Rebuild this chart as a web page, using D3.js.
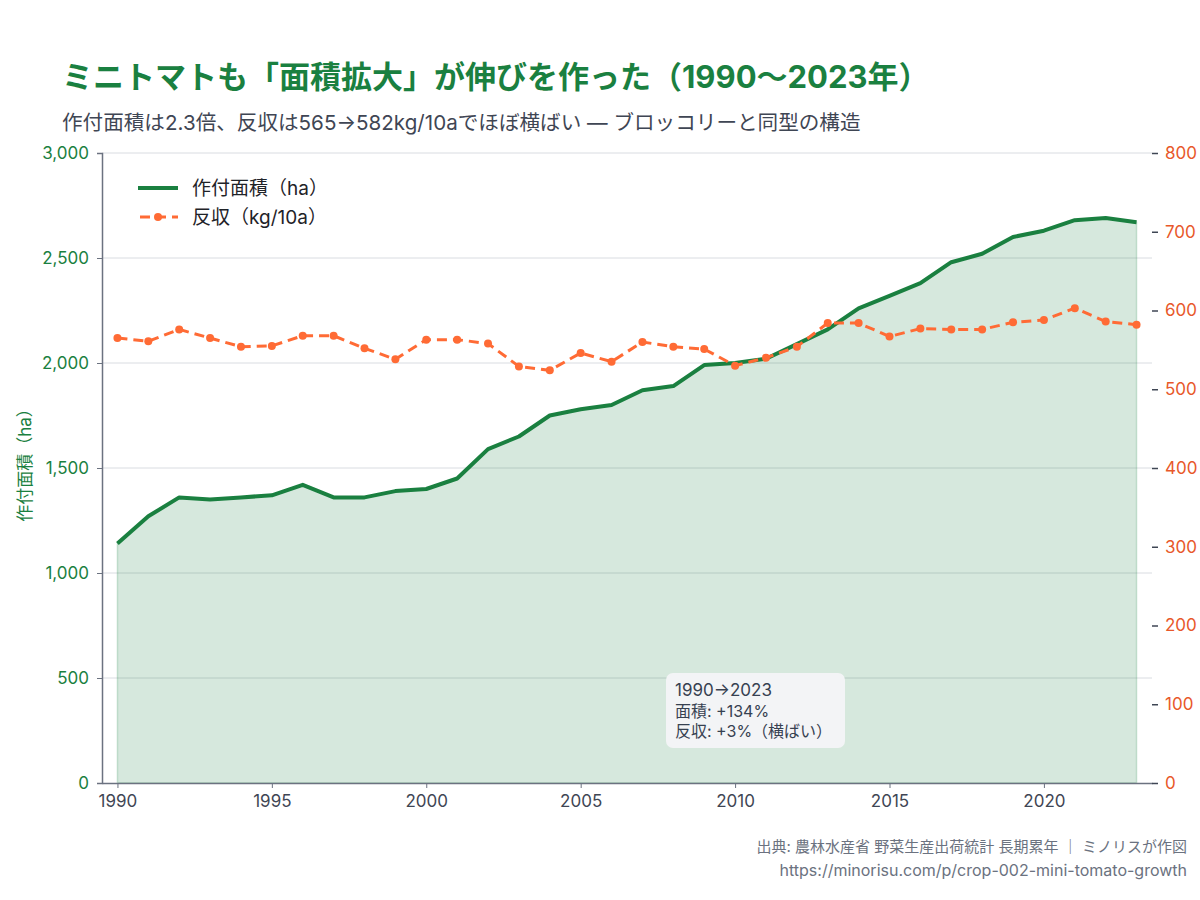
<!DOCTYPE html>
<html>
<head>
<meta charset="utf-8">
<script src="https://cdn.jsdelivr.net/npm/d3@7"></script>
<style>
  body { margin: 0; background: #fff; }
  svg text { font-family: Inter, "Noto Sans CJK JP", sans-serif; }
</style>
</head>
<body>
<div id="chart"></div>
<script>
// Data
let years = d3.range(1990, 2024)
let areaHa = [1140, 1270, 1360, 1350, 1360, 1370, 1420, 1360, 1360, 1390,
  1400, 1450, 1590, 1650, 1750, 1780, 1800, 1870, 1890, 1990,
  2000, 2020, 2090, 2160, 2260, 2320, 2380, 2480, 2520, 2600,
  2630, 2680, 2690, 2670]
let yieldKg = [565, 561, 576, 565, 554, 555, 568, 568, 552, 538,
  563, 563, 558, 529, 524, 546, 535, 560, 554, 551,
  530, 540, 554, 584, 584, 567, 577, 576, 576, 585,
  588, 603, 586, 582]
let xTicks = [1990, 1995, 2000, 2005, 2010, 2015, 2020]
let leftTicks = [0, 500, 1000, 1500, 2000, 2500, 3000]
let rightTicks = [0, 100, 200, 300, 400, 500, 600, 700, 800]
let legendLabels = ['作付面積（ha）', '反収（kg/10a）']
let noteLines = ['1990→2023', '面積: +134%', '反収: +3%（横ばい）']

let data = years.map(function(y, i){ return {year: y, area: areaHa[i], yield: yieldKg[i]} })

// Plot constants
let W = 1200, H = 900
let margin = {t: 153, r: 48, b: 117, l: 102}
let width = W - margin.l - margin.r
let height = H - margin.t - margin.b
let green = '#1a8040'
let orange = '#ff6b35'

let svg = d3.select('#chart').append('svg')
  .attr('width', W)
  .attr('height', H)

// Titles
svg.append('text')
  .attr('x', 62).attr('y', 88)
  .style('font-size', '31px').style('font-weight', 700)
  .style('fill', green)
  .text('ミニトマトも「面積拡大」が伸びを作った（1990〜2023年）')

svg.append('text')
  .attr('x', 62).attr('y', 130)
  .style('font-size', '20.6px')
  .style('fill', '#3f4654')
  .text('作付面積は2.3倍、反収は565→582kg/10aでほぼ横ばい — ブロッコリーと同型の構造')

let g = svg.append('g').attr('transform', `translate(${margin.l},${margin.t})`)

// Scales
let x = d3.scaleLinear().domain([1989.5, 2023.5]).range([0, width])
let yL = d3.scaleLinear().domain([0, 3000]).range([height, 0])
let yR = d3.scaleLinear().domain([0, 800]).range([height, 0])

// Grid
g.append('g')
  .selectAll('line')
  .data(leftTicks.slice(1))
  .enter().append('line')
  .attr('x1', 0).attr('x2', width)
  .attr('y1', function(d){ return yL(d) }).attr('y2', function(d){ return yL(d) })
  .style('stroke', '#d9dce1').style('stroke-width', 1)

// Area
let area = d3.area()
  .x(function(d){ return x(d.year) })
  .y0(yL(0))
  .y1(function(d){ return yL(d.area) })

g.append('path')
  .datum(data)
  .attr('d', area)
  .style('fill', green).style('fill-opacity', 0.18)
  .style('stroke', green).style('stroke-opacity', 0.2).style('stroke-width', 1.5)

// Area line
let lineArea = d3.line()
  .x(function(d){ return x(d.year) })
  .y(function(d){ return yL(d.area) })

g.append('path')
  .datum(data)
  .attr('d', lineArea)
  .style('fill', 'none')
  .style('stroke', green).style('stroke-width', 4)
  .style('stroke-linejoin', 'round')

// Yield line
let lineYield = d3.line()
  .x(function(d){ return x(d.year) })
  .y(function(d){ return yR(d.yield) })

g.append('path')
  .datum(data)
  .attr('d', lineYield)
  .style('fill', 'none')
  .style('stroke', orange).style('stroke-width', 3)
  .style('stroke-dasharray', '10,6')

g.append('g')
  .selectAll('circle')
  .data(data)
  .enter().append('circle')
  .attr('cx', function(d){ return x(d.year) })
  .attr('cy', function(d){ return yR(d.yield) })
  .attr('r', 4)
  .style('fill', orange)

// Axes
let axisColor = '#6b7280'

let xAxis = g.append('g')
  .attr('transform', `translate(0,${height})`)
  .call(d3.axisBottom(x).tickValues(xTicks).tickFormat(d3.format('d')).tickSize(5).tickSizeOuter(0))
xAxis.select('.domain').style('stroke', axisColor).style('stroke-width', 1.5)
xAxis.selectAll('.tick line').style('stroke', axisColor)
xAxis.selectAll('.tick text').style('font-size', '17px').style('fill', '#3f4654').attr('dy', '0.95em')

let leftAxis = g.append('g')
  .call(d3.axisLeft(yL).tickValues(leftTicks).tickFormat(d3.format(',')).tickSize(5).tickSizeOuter(5))
leftAxis.select('.domain').style('stroke', axisColor).style('stroke-width', 1.5)
leftAxis.selectAll('.tick line').style('stroke', axisColor)
leftAxis.selectAll('.tick text').style('font-size', '17px').style('fill', green).attr('x', -13)

let rightAxis = g.append('g')
  .attr('transform', `translate(${width},0)`)
  .call(d3.axisRight(yR).tickValues(rightTicks).tickSize(6).tickSizeOuter(0))
rightAxis.select('.domain').remove()
rightAxis.selectAll('.tick line').style('stroke', '#3f4654').style('stroke-width', 1.5)
rightAxis.selectAll('.tick text').style('font-size', '17px').style('fill', '#e8582a').attr('x', 13)

// Left axis label
svg.append('text')
  .attr('transform', `translate(31,${margin.t + height / 2 - 7}) rotate(-90)`)
  .attr('text-anchor', 'middle')
  .style('font-size', '17px')
  .style('fill', green)
  .text('作付面積（ha）')

// Legend
let legend = svg.append('g').attr('transform', 'translate(138,188)')
legend.append('line')
  .attr('x1', 0).attr('x2', 40).attr('y1', 0).attr('y2', 0)
  .style('stroke', green).style('stroke-width', 4)
legend.append('line')
  .attr('x1', 2).attr('x2', 40).attr('y1', 29).attr('y2', 29)
  .style('stroke', orange).style('stroke-width', 3).style('stroke-dasharray', '10,6')
legend.append('circle')
  .attr('cx', 20).attr('cy', 29).attr('r', 4)
  .style('fill', orange)
legend.selectAll('text.lg')
  .data(legendLabels)
  .enter().append('text')
  .attr('class', 'lg')
  .attr('x', 54)
  .attr('y', function(d, i){ return i * 29 + 6.5 })
  .style('font-size', '19px')
  .style('fill', '#1f2328')
  .text(function(d){ return d })

// Note box
let note = svg.append('g').attr('transform', 'translate(666,673)')
note.append('rect')
  .attr('width', 179).attr('height', 75)
  .attr('rx', 7)
  .style('fill', '#f3f4f6')
note.selectAll('text')
  .data(noteLines)
  .enter().append('text')
  .attr('x', 9)
  .attr('y', function(d, i){ return 23 + i * 20.5 })
  .style('font-size', function(d, i){ return i === 0 ? '17px' : '16px' })
  .style('fill', '#374151')
  .text(function(d){ return d })

// Footer
svg.append('text')
  .attr('x', 1187).attr('y', 852)
  .attr('text-anchor', 'end')
  .style('font-size', '15px').style('fill', '#6b7280')
  .text('出典: 農林水産省 野菜生産出荷統計 長期累年 ｜ ミノリスが作図')
svg.append('text')
  .attr('x', 1187).attr('y', 876)
  .attr('text-anchor', 'end')
  .style('font-size', '16px').style('fill', '#6b7280')
  .text('https://minorisu.com/p/crop-002-mini-tomato-growth')
</script>
</body>
</html>
